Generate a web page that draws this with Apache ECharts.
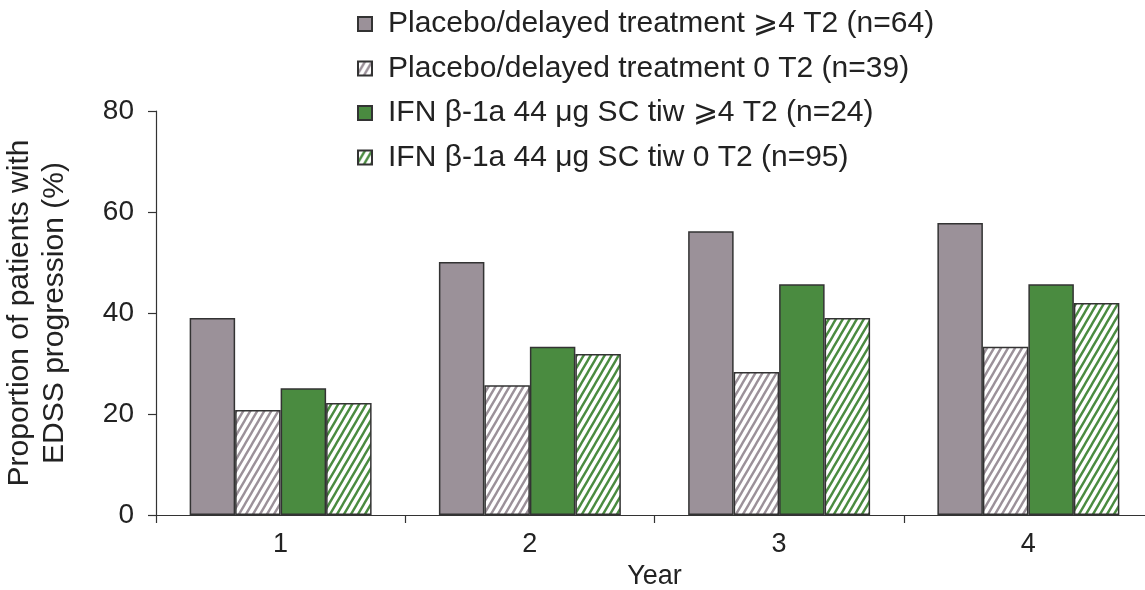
<!DOCTYPE html>
<html><head><meta charset="utf-8">
<script src="https://cdn.jsdelivr.net/npm/echarts@6/dist/echarts.min.js"></script>
<style>html,body{margin:0;padding:0;background:#fff}#c{width:1145px;height:590px}</style>
</head><body><div id="c"></div>
<script>
const categories = ['1', '2', '3', '4'];
const seriesNames = [
  'Placebo/delayed treatment ⩾4 T2 (n=64)',
  'Placebo/delayed treatment 0 T2 (n=39)',
  'IFN β-1a 44 μg SC tiw ⩾4 T2 (n=24)',
  'IFN β-1a 44 μg SC tiw 0 T2 (n=95)'
];
const placebo4 = [39.0, 50.1, 56.2, 57.8];
const placebo0 = [20.8, 25.7, 28.3, 33.3];
const ifn4 = [25.1, 33.3, 45.7, 45.7];
const ifn0 = [22.2, 31.9, 39.0, 42.0];
const yTicks = [0, 20, 40, 60, 80];

const GRAY = '#9b9199', GREEN = '#4a8b40';
function hatch(color) {
  const w = 7, h = 12;
  const c = document.createElement('canvas');
  c.width = w; c.height = h;
  const g = c.getContext('2d');
  g.fillStyle = '#fff'; g.fillRect(0, 0, w, h);
  g.strokeStyle = color; g.lineWidth = 2.4;
  g.beginPath();
  for (let k = -1; k <= 1; k++) {
    g.moveTo(k * w - 0.6, h + 1); g.lineTo(k * w + w + 0.6, -1);
  }
  g.stroke();
  return { image: c, repeat: 'repeat' };
}
const fills = [GRAY, hatch(GRAY), GREEN, hatch(GREEN)];
const datas = [placebo4, placebo0, ifn4, ifn0];
const font = 'Liberation Sans, Arial, sans-serif';

const chart = echarts.init(document.getElementById('c'));
chart.setOption({
  animation: false,
  textStyle: { fontFamily: font },
  legend: {
    orient: 'vertical', left: 352, top: 4, itemGap: 14.5,
    itemWidth: 14, itemHeight: 14, icon: 'rect',
    textStyle: { fontSize: 30, color: '#222', fontFamily: font, padding: [0, 0, 0, 11] },
    data: seriesNames
  },
  grid: { left: 156, top: 111, width: 997, height: 404, outerBoundsMode: 'none', containLabel: false },
  xAxis: {
    type: 'category', data: categories,
    name: 'Year', nameLocation: 'middle', nameGap: 46,
    nameTextStyle: { fontSize: 27, color: '#222' },
    axisLine: { lineStyle: { color: '#333', width: 1.2 } },
    axisTick: { show: true, length: 8, lineStyle: { color: '#333', width: 1.2 } },
    axisLabel: { fontSize: 27, color: '#222', margin: 16 }
  },
  yAxis: {
    type: 'value', min: 0, max: 80, interval: 20,
    name: 'Proportion of patients with\nEDSS progression (%)',
    nameLocation: 'middle', nameGap: 84, nameRotate: 90,
    nameTextStyle: { fontSize: 30, color: '#222', lineHeight: 35 },
    axisLine: { show: true, lineStyle: { color: '#333', width: 1.2 } },
    axisTick: { show: true, length: 8, lineStyle: { color: '#333', width: 1.2 } },
    axisLabel: { fontSize: 28, color: '#222', margin: 22,
      formatter: v => yTicks.includes(v) ? String(v) : '' },
    splitLine: { show: false }
  },
  series: datas.map((d, i) => ({
    name: seriesNames[i], type: 'bar', data: d,
    barGap: '0%', barCategoryGap: '27%',
    itemStyle: { color: fills[i], borderColor: '#333', borderWidth: 1.5 }
  }))
});
</script></body></html>
